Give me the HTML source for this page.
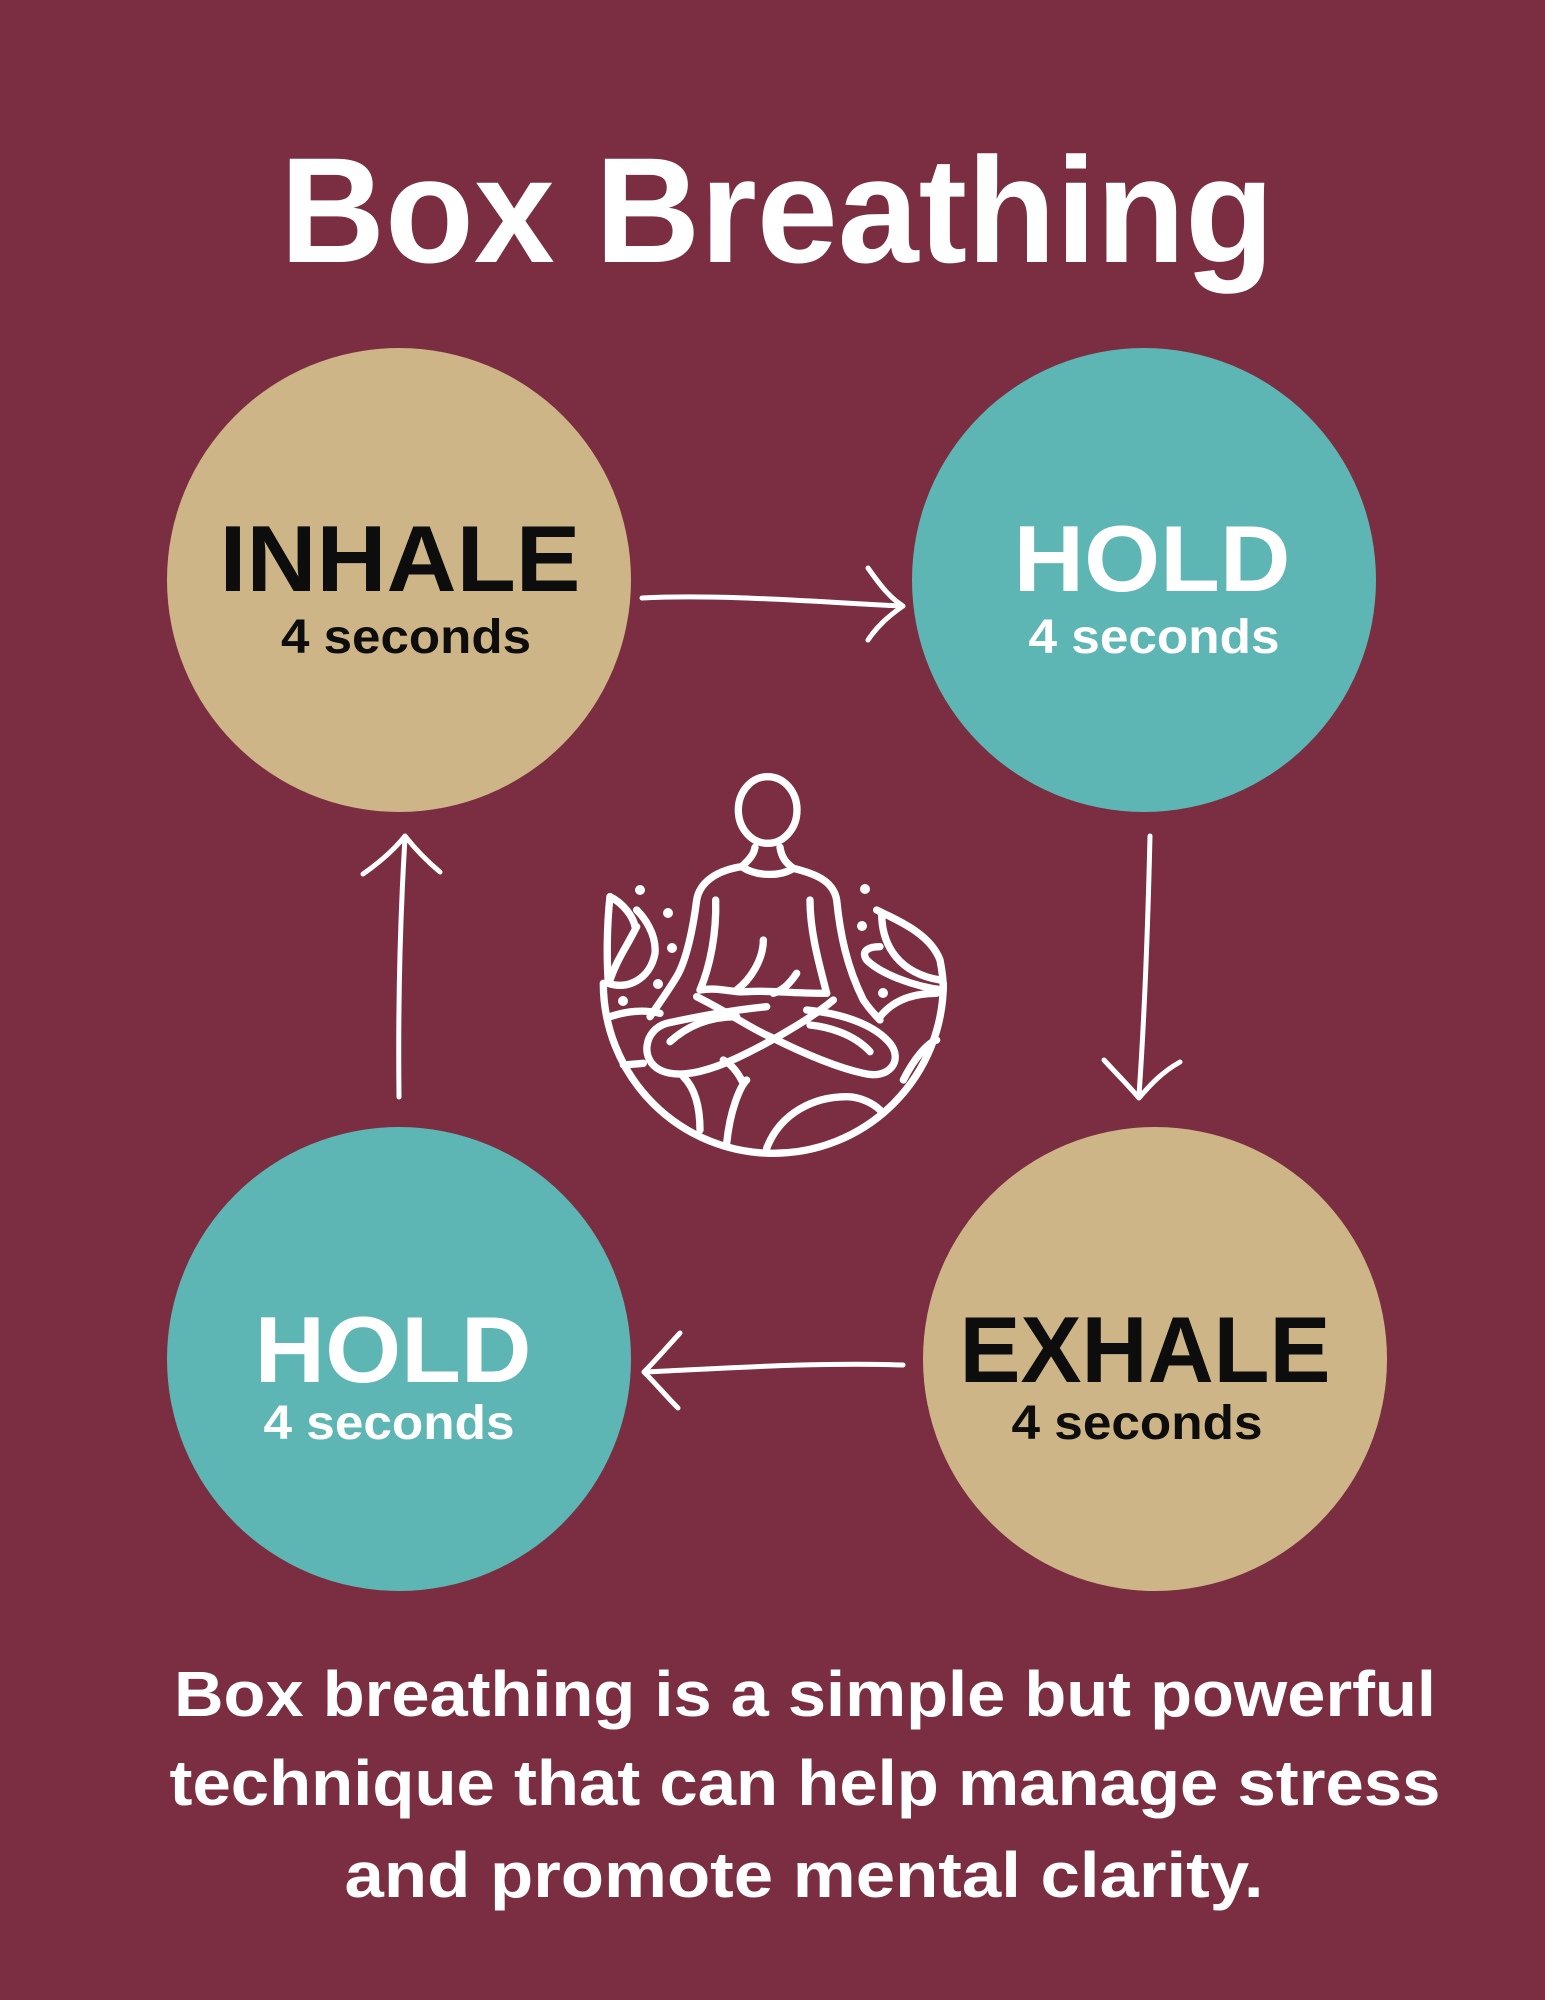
<!DOCTYPE html>
<html><head><meta charset="utf-8"><style>
html,body{margin:0;padding:0;background:#7b2e41;}
svg{display:block;}
text{font-family:"Liberation Sans",sans-serif;font-weight:bold;}
</style></head><body>
<svg width="1545" height="2000" viewBox="0 0 1545 2000" xmlns="http://www.w3.org/2000/svg">
<rect width="1545" height="2000" fill="#7b2e41"/>
<text x="777" y="262" font-size="150" fill="#fff" text-anchor="middle" textLength="994" lengthAdjust="spacingAndGlyphs">Box Breathing</text>

<circle cx="399" cy="580" r="232" fill="#cdb588"/>
<circle cx="1144" cy="580" r="232" fill="#5db6b3"/>
<circle cx="399" cy="1359" r="232" fill="#5db6b3"/>
<circle cx="1155" cy="1359" r="232" fill="#cdb588"/>

<text x="400" y="591" font-size="94" fill="#0d0d0d" text-anchor="middle" textLength="361" lengthAdjust="spacingAndGlyphs">INHALE</text>
<text x="406" y="653" font-size="48" fill="#0d0d0d" text-anchor="middle" textLength="250" lengthAdjust="spacingAndGlyphs">4 seconds</text>
<text x="1152" y="591" font-size="94" fill="#fff" text-anchor="middle" textLength="277" lengthAdjust="spacingAndGlyphs">HOLD</text>
<text x="1154" y="653" font-size="48" fill="#fff" text-anchor="middle" textLength="251" lengthAdjust="spacingAndGlyphs">4 seconds</text>
<text x="393" y="1382" font-size="94" fill="#fff" text-anchor="middle" textLength="277" lengthAdjust="spacingAndGlyphs">HOLD</text>
<text x="389" y="1439" font-size="48" fill="#fff" text-anchor="middle" textLength="251" lengthAdjust="spacingAndGlyphs">4 seconds</text>
<text x="1145" y="1382" font-size="94" fill="#0d0d0d" text-anchor="middle" textLength="371" lengthAdjust="spacingAndGlyphs">EXHALE</text>
<text x="1137" y="1439" font-size="48" fill="#0d0d0d" text-anchor="middle" textLength="251" lengthAdjust="spacingAndGlyphs">4 seconds</text>

<g fill="none" stroke="#fff" stroke-width="5" stroke-linecap="round" stroke-linejoin="round">
  <path d="M642,598 C720,594 820,602 900,606"/>
  <path d="M868,568 C880,585 890,598 903,606 C890,615 878,625 868,640"/>
  <path d="M1150,836 C1148,920 1145,1010 1139,1095"/>
  <path d="M1104,1060 C1115,1072 1128,1085 1139,1098 C1150,1085 1162,1072 1180,1062"/>
  <path d="M903,1365 C820,1362 730,1368 646,1372"/>
  <path d="M680,1333 C668,1346 656,1360 644,1372 C656,1384 666,1396 678,1408"/>
  <path d="M399,1097 C398,1010 400,920 405,838"/>
  <path d="M363,874 C380,862 394,850 405,836 C416,850 428,862 440,872"/>
</g>

<g transform="translate(580,760) scale(0.33333)" fill="none" stroke="#fff" stroke-width="22" stroke-linecap="round" stroke-linejoin="round">
  <ellipse cx="563" cy="150" rx="88" ry="100"/>
  <path d="M525,262 C520,290 500,305 485,320 C530,350 600,350 640,325 C620,310 605,295 600,262"/>
  <path d="M485,320 C420,330 360,360 350,420 C340,500 320,600 290,650 C260,700 230,740 210,770"/>
  <path d="M640,325 C700,340 760,360 770,420 C780,520 800,620 850,720 C870,750 890,770 900,780"/>
  <path d="M407,420 C410,520 390,620 360,690"/>
  <path d="M690,420 C690,520 720,620 740,700"/>
  <path d="M550,540 C550,600 510,660 470,690"/>
  <path d="M650,640 C630,670 610,690 580,700"/>
  <path d="M360,690 C420,680 460,700 500,695 C560,690 620,700 740,700"/>
  <path d="M560,740 C460,750 350,770 260,790 C190,810 180,900 240,930 C300,960 400,930 500,880 C600,830 700,770 760,720"/>
  <path d="M350,710 C450,760 520,810 570,830 C650,870 760,920 850,940 C930,960 970,900 930,850 C880,790 780,760 680,750"/>
  <path d="M270,845 C330,790 400,770 470,770"/>
  <path d="M870,875 C820,820 740,800 690,795"/>
  <path d="M70,670 A510,510 0 0 0 1090,670"/>
  <path d="M360,1110 C360,1030 340,980 310,950"/>
  <path d="M440,1150 C450,1050 480,980 500,960"/>
  <path d="M490,970 C470,930 450,910 430,900"/>
  <path d="M560,1165 C600,1060 700,1010 800,1010 C840,1010 880,1030 900,1050"/>
  <path d="M90,770 C150,750 200,750 240,760"/>
  <path d="M130,915 L190,910"/>
  <path d="M900,770 C940,720 1000,700 1070,700"/>
  <path d="M970,960 C1000,900 1040,850 1070,840"/>
  <path d="M90,410 C80,500 80,600 85,670 C140,690 210,660 225,580 C230,520 190,470 170,450"/>
  <path d="M90,410 C130,430 160,470 165,500"/>
  <path d="M90,660 C110,600 140,560 170,500"/>
  <path d="M890,450 C950,480 1050,520 1080,600 C1090,650 1090,680 1090,690 C1000,680 900,640 860,600 C840,570 870,560 900,560"/>
  <path d="M905,460 C905,560 960,640 1080,660"/>
</g>
<g fill="#fff">
  <circle cx="640" cy="890" r="5"/><circle cx="668" cy="913" r="5"/><circle cx="672" cy="948" r="5"/>
  <circle cx="658" cy="984" r="5"/><circle cx="623" cy="1001" r="5"/><circle cx="865" cy="889" r="5"/>
  <circle cx="862" cy="926" r="5"/><circle cx="883" cy="993" r="5"/>
</g>

<text x="805" y="1716" font-size="64" fill="#fff" text-anchor="middle" textLength="1262" lengthAdjust="spacingAndGlyphs">Box breathing is a simple but powerful</text>
<text x="805" y="1805" font-size="64" fill="#fff" text-anchor="middle" textLength="1271" lengthAdjust="spacingAndGlyphs">technique that can help manage stress</text>
<text x="804" y="1897" font-size="64" fill="#fff" text-anchor="middle" textLength="919" lengthAdjust="spacingAndGlyphs">and promote mental clarity.</text>
</svg>
</body></html>
